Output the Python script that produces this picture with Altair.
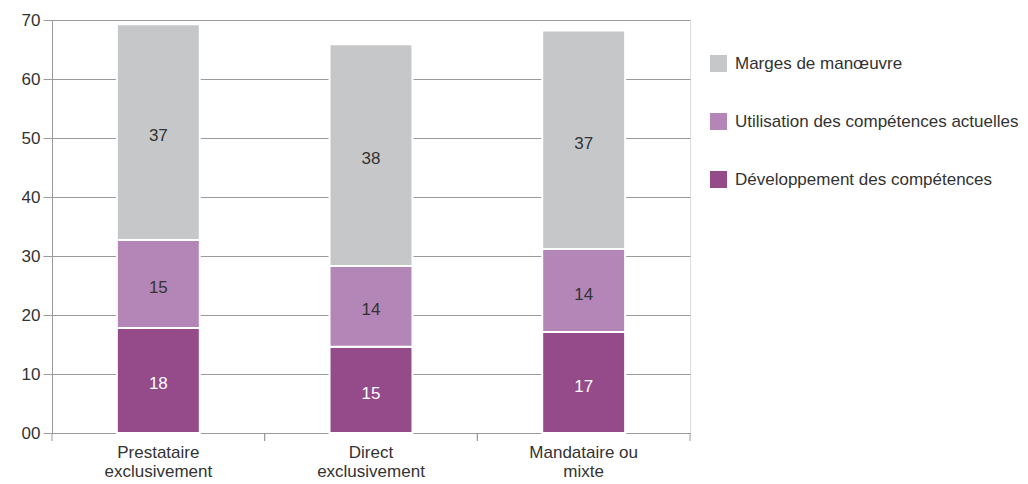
import altair as alt
import pandas as pd

categories = ["Prestataire exclusivement", "Direct exclusivement", "Mandataire ou mixte"]
series = ["Marges de manœuvre", "Utilisation des compétences actuelles", "Développement des compétences"]
developpement = [17.8, 14.6, 17.1]
utilisation = [14.9, 13.7, 14.1]
marges = [36.6, 37.6, 37.0]
colors = ["#c6c7c9", "#b386b7", "#954a8a"]
y_ticks = [0, 10, 20, 30, 40, 50, 60, 70]

rows = []
for i, c in enumerate(categories):
    for order, (s, vals) in enumerate([(series[2], developpement), (series[1], utilisation), (series[0], marges)]):
        rows.append(dict(cat=c, serie=s, value=vals[i], order=order))
df = pd.DataFrame(rows)

W, H = 638, 413
FONT = "Liberation Sans"
FS = 17
GRID = "#9a9a9a"
TXT = "#333333"

base = alt.Chart(df).transform_stack(
    stack="value", groupby=["cat"], sort=[alt.SortField("order")], as_=["y0", "y1"]
).transform_calculate(
    mid="(datum.y0 + datum.y1) / 2", lab="format(datum.value, '.0f')"
)

xscale = alt.Scale(domain=categories, paddingInner=0, paddingOuter=0)

label_expr = ("datum.label == 'Mandataire ou mixte' ? ['Mandataire ou', 'mixte'] : split(datum.label, ' ')")

bars = base.mark_bar(stroke="white", strokeWidth=2, width=alt.RelativeBandSize(0.39)).encode(
    x=alt.X("cat:N", sort=categories, scale=xscale,
            axis=alt.Axis(title=None, labelAngle=0, ticks=False, grid=False, domainColor=GRID,
                          labelExpr=label_expr, labelFontSize=FS, labelColor=TXT, labelPadding=11,
                          labelLineHeight=19, labelFont=FONT)),
    y=alt.Y("y0:Q", scale=alt.Scale(domain=[0, 70], nice=False),
            axis=alt.Axis(values=y_ticks, title=None, grid=True, gridColor=GRID, tickColor=GRID,
                          domainColor=GRID, tickSize=9, labelPadding=3, labelFontSize=FS,
                          labelColor=TXT, labelFont=FONT,
                          labelExpr="datum.value == 0 ? '00' : datum.label")),
    y2="y1:Q",
    color=alt.Color("serie:N", scale=alt.Scale(domain=series, range=colors),
                    legend=alt.Legend(title=None, orient="none", legendX=658, legendY=35,
                                      symbolType="square", symbolSize=289, symbolStrokeWidth=0,
                                      labelFontSize=FS, labelColor=TXT, labelFont=FONT,
                                      rowPadding=40, labelOffset=8, labelLimit=400)),
    order=alt.Order("order:Q"),
)

texts = base.mark_text(fontSize=FS, baseline="middle", font=FONT, dy=4).encode(
    x=alt.X("cat:N", sort=categories, scale=xscale),
    y=alt.Y("mid:Q"),
    text="lab:N",
    color=alt.condition(alt.datum.serie == "Développement des compétences",
                        alt.value("white"), alt.value(TXT)),
)

tick_df = pd.DataFrame({"cat": categories})
ticks_start = alt.Chart(tick_df).mark_rule(color=GRID, strokeWidth=1).encode(
    x=alt.X("cat:N", sort=categories, scale=xscale, bandPosition=0),
    y=alt.value(H), y2=alt.value(H + 8),
)
ticks_end = alt.Chart(tick_df).mark_rule(color=GRID, strokeWidth=1).encode(
    x=alt.X("cat:N", sort=categories, scale=xscale, bandPosition=1),
    y=alt.value(H), y2=alt.value(H + 8),
)

chart = alt.layer(bars, texts, ticks_start, ticks_end).properties(
    width=W, height=H,
    autosize=alt.AutoSizeParams(type="none"),
    padding={"left": 44, "top": 12, "right": 330, "bottom": 52},
).configure_view(stroke=None).configure(font=FONT)

chart.save("out.html", embed_options={"renderer": "svg", "actions": False})
